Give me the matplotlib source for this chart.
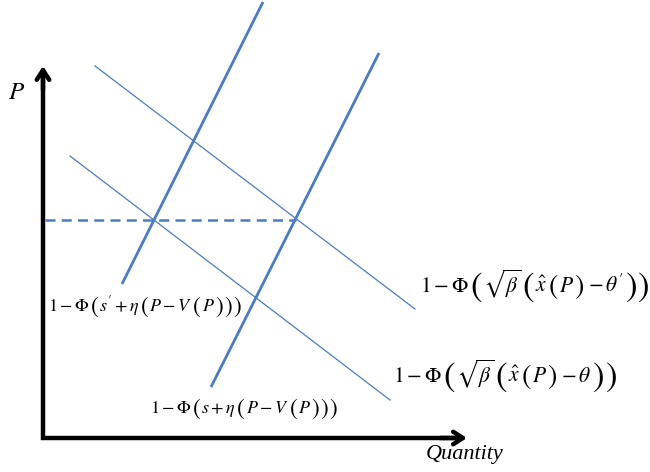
import matplotlib
matplotlib.use('Agg')
import matplotlib.pyplot as plt

plt.rcParams['mathtext.fontset'] = 'stix'
plt.rcParams['font.family'] = ['Liberation Serif', 'DejaVu Serif']

# line endpoints (pixel space of the original sketch, y grows downward)
supply_left_x = [122, 263]
supply_left_y = [284, 2]
supply_right_x = [211, 379]
supply_right_y = [387, 53]
demand_hi_x = [95, 415]
demand_hi_y = [66, 309]
demand_lo_x = [70, 390]
demand_lo_y = [156, 400]
price_level = 220
price_end_x = 296

# labels as pieces: (text, paren scale); scale 1 = normal text
B, M, S = 1.6, 1.3, 1.3
label_demand_hi = [(r'$1-\Phi$', 1), ('(', B), (r'$\sqrt{\beta}$', 1), ('(', B),
                   (r'$\hat{x}$', 1), ('(', M), (r'$P$', 1), (')', M),
                   (r'${}-\theta^{\prime}$', 1), (')', B), (')', B)]
label_demand_lo = [(r'$1-\Phi$', 1), ('(', B), (r'$\sqrt{\beta}$', 1), ('(', B),
                   (r'$\hat{x}$', 1), ('(', M), (r'$P$', 1), (')', M),
                   (r'${}-\theta$', 1), (')', B), (')', B)]
label_supply_left = [(r'$1-\Phi$', 1), ('(', S), (r"$s^{\prime}+\eta$", 1), ('(', S),
                     (r'$P-V$', 1), ('(', S), (r'$P$', 1), (')', S), (')', S), (')', S)]
label_supply_right = [(r'$1-\Phi$', 1), ('(', S), (r'$s+\eta$', 1), ('(', S),
                      (r'$P-V$', 1), ('(', S), (r'$P$', 1), (')', S), (')', S), (')', S)]
labels = [label_demand_hi, label_demand_lo, label_supply_left, label_supply_right]
label_pos = [(420, 292), (393, 382), (48, 311), (150, 413)]
label_size = [15.5, 15.5, 13, 13]
label_gap = [0.6, 0.6, 0.3, 0.3]

blue = '#4a7cc4'

fig = plt.figure(figsize=(6.5, 4.72), dpi=100)
ax = fig.add_axes([0, 0, 1, 1])
ax.set_xlim(0, 650)
ax.set_ylim(472, 0)
ax.axis('off')
renderer = fig.canvas.get_renderer()


def draw_pieces(x, y, pieces, size, gap):
    cur = x
    px = size * 100 / 72.
    for s, scale in pieces:
        if scale == 1:
            t = ax.text(cur, y, s, fontsize=size, ha='left', va='baseline')
        else:
            dy = (scale - 1) * 0.27 * px
            t = ax.text(cur, y + dy, '$' + s + '$', fontsize=size * scale,
                        ha='left', va='baseline')
        cur += t.get_window_extent(renderer).width + gap


# axes drawn as one L so the corner is square
ax.plot([43, 43, 462], [72, 438, 438], color='black', lw=3.2,
        solid_joinstyle='miter', solid_capstyle='butt')
ax.annotate('', xy=(43, 66), xytext=(43, 90),
            arrowprops=dict(arrowstyle='->,head_length=0.7,head_width=0.45', lw=3.2, color='black',
                            shrinkA=0, shrinkB=0))
ax.annotate('', xy=(467, 438), xytext=(440, 438),
            arrowprops=dict(arrowstyle='->,head_length=0.7,head_width=0.45', lw=3.2, color='black',
                            shrinkA=0, shrinkB=0))

ax.plot(supply_left_x, supply_left_y, color=blue, lw=2.0, solid_capstyle='butt')
ax.plot(supply_right_x, supply_right_y, color=blue, lw=2.0, solid_capstyle='butt')
ax.plot(demand_hi_x, demand_hi_y, color=blue, lw=0.9)
ax.plot(demand_lo_x, demand_lo_y, color=blue, lw=0.9)
ax.plot([45, price_end_x], [price_level, price_level], color=blue, lw=1.8, dashes=(4, 2.5))

for pieces, (x, y), sz, g in zip(labels, label_pos, label_size, label_gap):
    draw_pieces(x, y, pieces, sz, g)

ax.text(17, 93, r'$P$', fontsize=18, ha='center', va='center')
ax.text(465, 455, 'Quantity', fontsize=16, style='italic', ha='center', va='center')

fig.savefig('out.png', dpi=100)
